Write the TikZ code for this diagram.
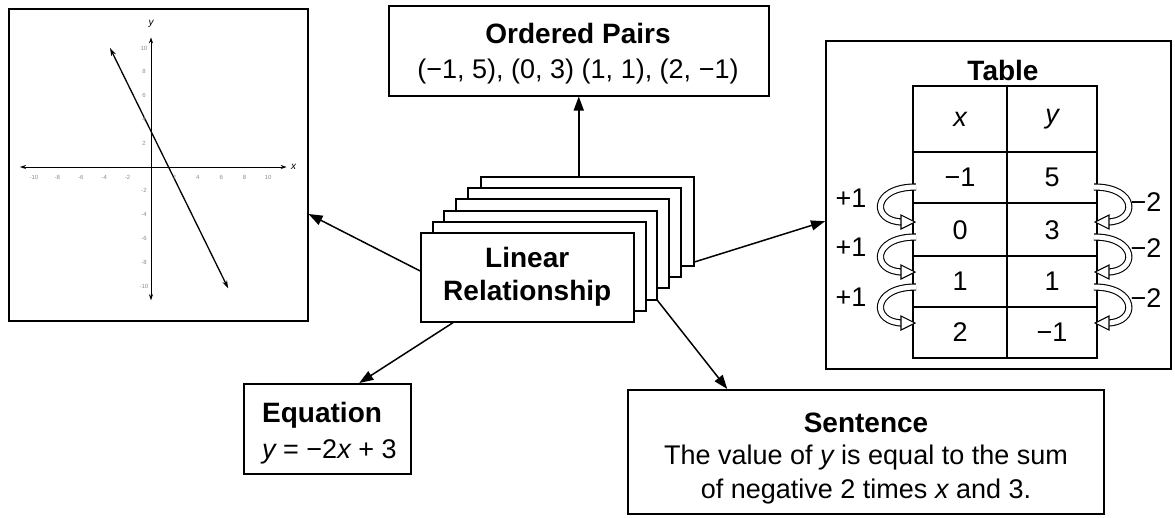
\documentclass[tikz,border=0pt]{standalone}
\usepackage{fontspec}
\setmainfont{Liberation Sans}
\usetikzlibrary{arrows.meta,calc}
\begin{document}
\begin{tikzpicture}[x=1pt,y=-1pt,
  box/.style={draw, line width=1.5pt, fill=white, inner sep=0pt, anchor=north west},
  card/.style={box, minimum width=213pt, minimum height=89pt},
  arr/.style={line width=1.5pt, -{Triangle[length=14pt,width=10pt]}},
  head/.style={font=\fontsize{28}{33}\selectfont\bfseries, inner sep=0pt},
  body/.style={font=\fontsize{27}{33}\selectfont, inner sep=0pt},
  tick/.style={font=\fontsize{6}{6}\selectfont, text=black!45, inner sep=0pt},
  ribbon/.style={line width=1.1pt, double=white, double distance=5pt},
  tip/.style={line width=1.1pt, fill=white},
  grid/.style={line width=1.3pt}]
\useasboundingbox (0,0) rectangle (1175,517);

% ---- graph box ----
\node[box, minimum width=299pt, minimum height=312pt] (graph) at (8,8) {};
\begin{scope}[shift={(151,167)}, x=11.7pt, y=11.9pt]
  \draw[line width=1pt, {Stealth[length=6pt,width=4pt]}-{Stealth[length=6pt,width=4pt]}] (-11.2,0) -- (11.6,0);
  \draw[line width=1pt, {Stealth[length=6pt,width=4pt]}-{Stealth[length=6pt,width=4pt]}] (0,-11.2) -- (0,10.9);
  \draw[line width=1.3pt, {Stealth[length=8pt,width=5pt]}-{Stealth[length=8pt,width=5pt]}] (-3.5,10) -- (6.6,-10.2);
  \foreach \v in {-10,-8,-6,-4,-2,2,4,6,8,10} {
    \node[tick] (tx\v) at (\v,-0.9) {\v};
    \node[tick] (ty\v) at (-0.6,\v) {\v};
  }
  \node[font=\fontsize{10}{10}\selectfont\itshape, inner sep=0pt] (xl) at (12.2,0) {x};
  \node[font=\fontsize{10}{10}\selectfont\itshape, inner sep=0pt] (yl) at (0,12) {y};
\end{scope}

% ---- ordered pairs ----
\node[box, minimum width=380pt, minimum height=90pt] (pairs) at (388,5) {};
\node[head] (pairsT) at (578,33) {Ordered Pairs};
\node[body] (pairsV) at (578,72) {(−1, 5), (0, 3) (1, 1), (2, −1)};

% ---- equation ----
\node[box, minimum width=167pt, minimum height=90pt] (eq) at (243,383) {};
\node[head, anchor=west] (eqT) at (262,415) {Equation};
\node[body, anchor=west] (eqV) at (262,452) {\itshape y\upshape\ = −2\itshape x\upshape\ + 3};

% ---- sentence ----
\node[box, minimum width=476pt, minimum height=124pt] (sent) at (627,389) {};
\node[head] (sentT) at (866,423) {Sentence};
\node[body] (sentA) at (866,458) {The value of \itshape y\upshape\ is equal to the sum};
\node[body] (sentB) at (866,492) {of negative 2 times \itshape x\upshape\ and 3.};

% ---- table ----
\node[box, minimum width=345pt, minimum height=328pt] (tab) at (825,40) {};
\node[head] (tabT) at (1003,70) {Table};
\draw[grid] (913,86) rectangle (1097,358);
\draw[grid] (1007,86) -- (1007,358);
\foreach \yy in {152,203,256,307} \draw[grid] (913,\yy) -- (1097,\yy);
\node[body] (hx) at (960,119) {\itshape x};
\node[body] (hy) at (1052,119) {\itshape y};
\node[body] (x1) at (960,177) {−1};
\node[body] (y1) at (1052,177) {5};
\node[body] (x2) at (960,230) {0};
\node[body] (y2) at (1052,230) {3};
\node[body] (x3) at (960,281) {1};
\node[body] (y3) at (1052,281) {1};
\node[body] (x4) at (960,332) {2};
\node[body] (y4) at (1052,332) {−1};
\foreach \t/\b in {187/222, 237/272, 287/323} {
  \draw[ribbon] (916,\t) .. controls (871,\t) and (871,\b) .. (903,\b);
  \draw[tip] (901,\b-7) -- (915,\b) -- (901,\b+7) -- cycle;
  \draw[ribbon] (1094,\t) .. controls (1138,\t) and (1138,\b) .. (1107,\b);
  \draw[tip] (1109,\b-7) -- (1095,\b) -- (1109,\b+7) -- cycle;
}
\node[body] (p1) at (851,198) {+1};
\node[body] (p2) at (851,247) {+1};
\node[body] (p3) at (851,297) {+1};
\node[body] (m1) at (1146,202) {−2};
\node[body] (m2) at (1146,248) {−2};
\node[body] (m3) at (1146,298) {−2};

% ---- stacked cards ----
\node[card] (c6) at (480,176) {};
\node[card] (c5) at (467,187) {};
\node[card] (c4) at (455,198) {};
\node[card] (c3) at (443,210) {};
\node[card] (c2) at (432,221) {};
\node[card] (c1) at (420,232) {};
\node[head, align=center] (lr) at (c1.center) {Linear\\Relationship};

% ---- connectors ----
\draw[arr] ($(c1.north west)!0.43!(c1.south west)$) -- ($(graph.north east)!0.657!(graph.south east)$);
\draw[arr] (pairs.south |- c6.north) -- (pairs.south);
\draw[arr] ($(c6.north east)!0.95!(c6.south east)$) -- ($(tab.north west)!0.55!(tab.south west)$);
\draw[arr] ($(c1.south west)!0.155!(c1.south east)$) -- ($(eq.north west)!0.69!(eq.north east)$);
\draw[arr] (c3.south east) -- ($(sent.north west)!0.21!(sent.north east)$);
\end{tikzpicture}
\end{document}
